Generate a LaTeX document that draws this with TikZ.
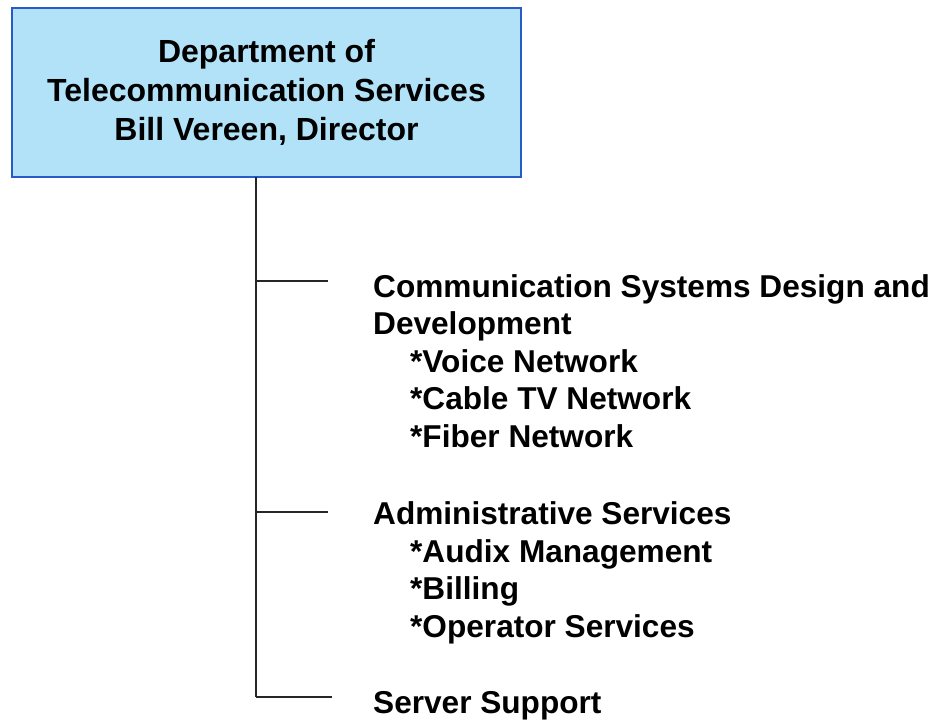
\documentclass[tikz,border=0pt]{standalone}
\usepackage{fontspec}
\setmainfont{Liberation Sans}
\definecolor{boxfill}{RGB}{178,226,248}
\definecolor{boxdraw}{RGB}{40,90,200}
\begin{document}
\begin{tikzpicture}[x=1pt,y=1pt,
  titlebox/.style={draw=boxdraw,line width=1.5pt,fill=boxfill,minimum width=509pt,minimum height=169pt,inner sep=0pt,align=center,font=\fontsize{32}{38.7}\selectfont\bfseries},
  unit/.style={anchor=north west,inner sep=0pt,align=left,font=\fontsize{31.6}{37.6}\selectfont\bfseries},
  link/.style={line width=1.2pt,black!85}]
\useasboundingbox (0,0) rectangle (939,-722);
\node[titlebox] (dept) at (266.5,-92.5) {Department of\\Telecommunication Services\\Bill Vereen, Director};
\node[unit] (csd) at (373,-274) {Communication Systems Design and\\Development\\\hspace*{37pt}*Voice Network\\\hspace*{37pt}*Cable TV Network\\\hspace*{37pt}*Fiber Network};
\node[unit] (adm) at (373,-501.5) {Administrative Services\\\hspace*{37pt}*Audix Management\\\hspace*{37pt}*Billing\\\hspace*{37pt}*Operator Services};
\node[unit] (srv) at (373,-691) {Server Support};
\coordinate (top) at (256,-177);
\coordinate (j1) at (256,-281);
\coordinate (j2) at (256,-512);
\coordinate (j3) at (256,-697);
\coordinate (e1) at (328,-281);
\coordinate (e2) at (328,-512);
\coordinate (e3) at (332,-697);
\draw[link] (top) -- (j3);
\draw[link] (j1) -- (e1);
\draw[link] (j2) -- (e2);
\draw[link] (j3) -- (e3);
\end{tikzpicture}
\end{document}
